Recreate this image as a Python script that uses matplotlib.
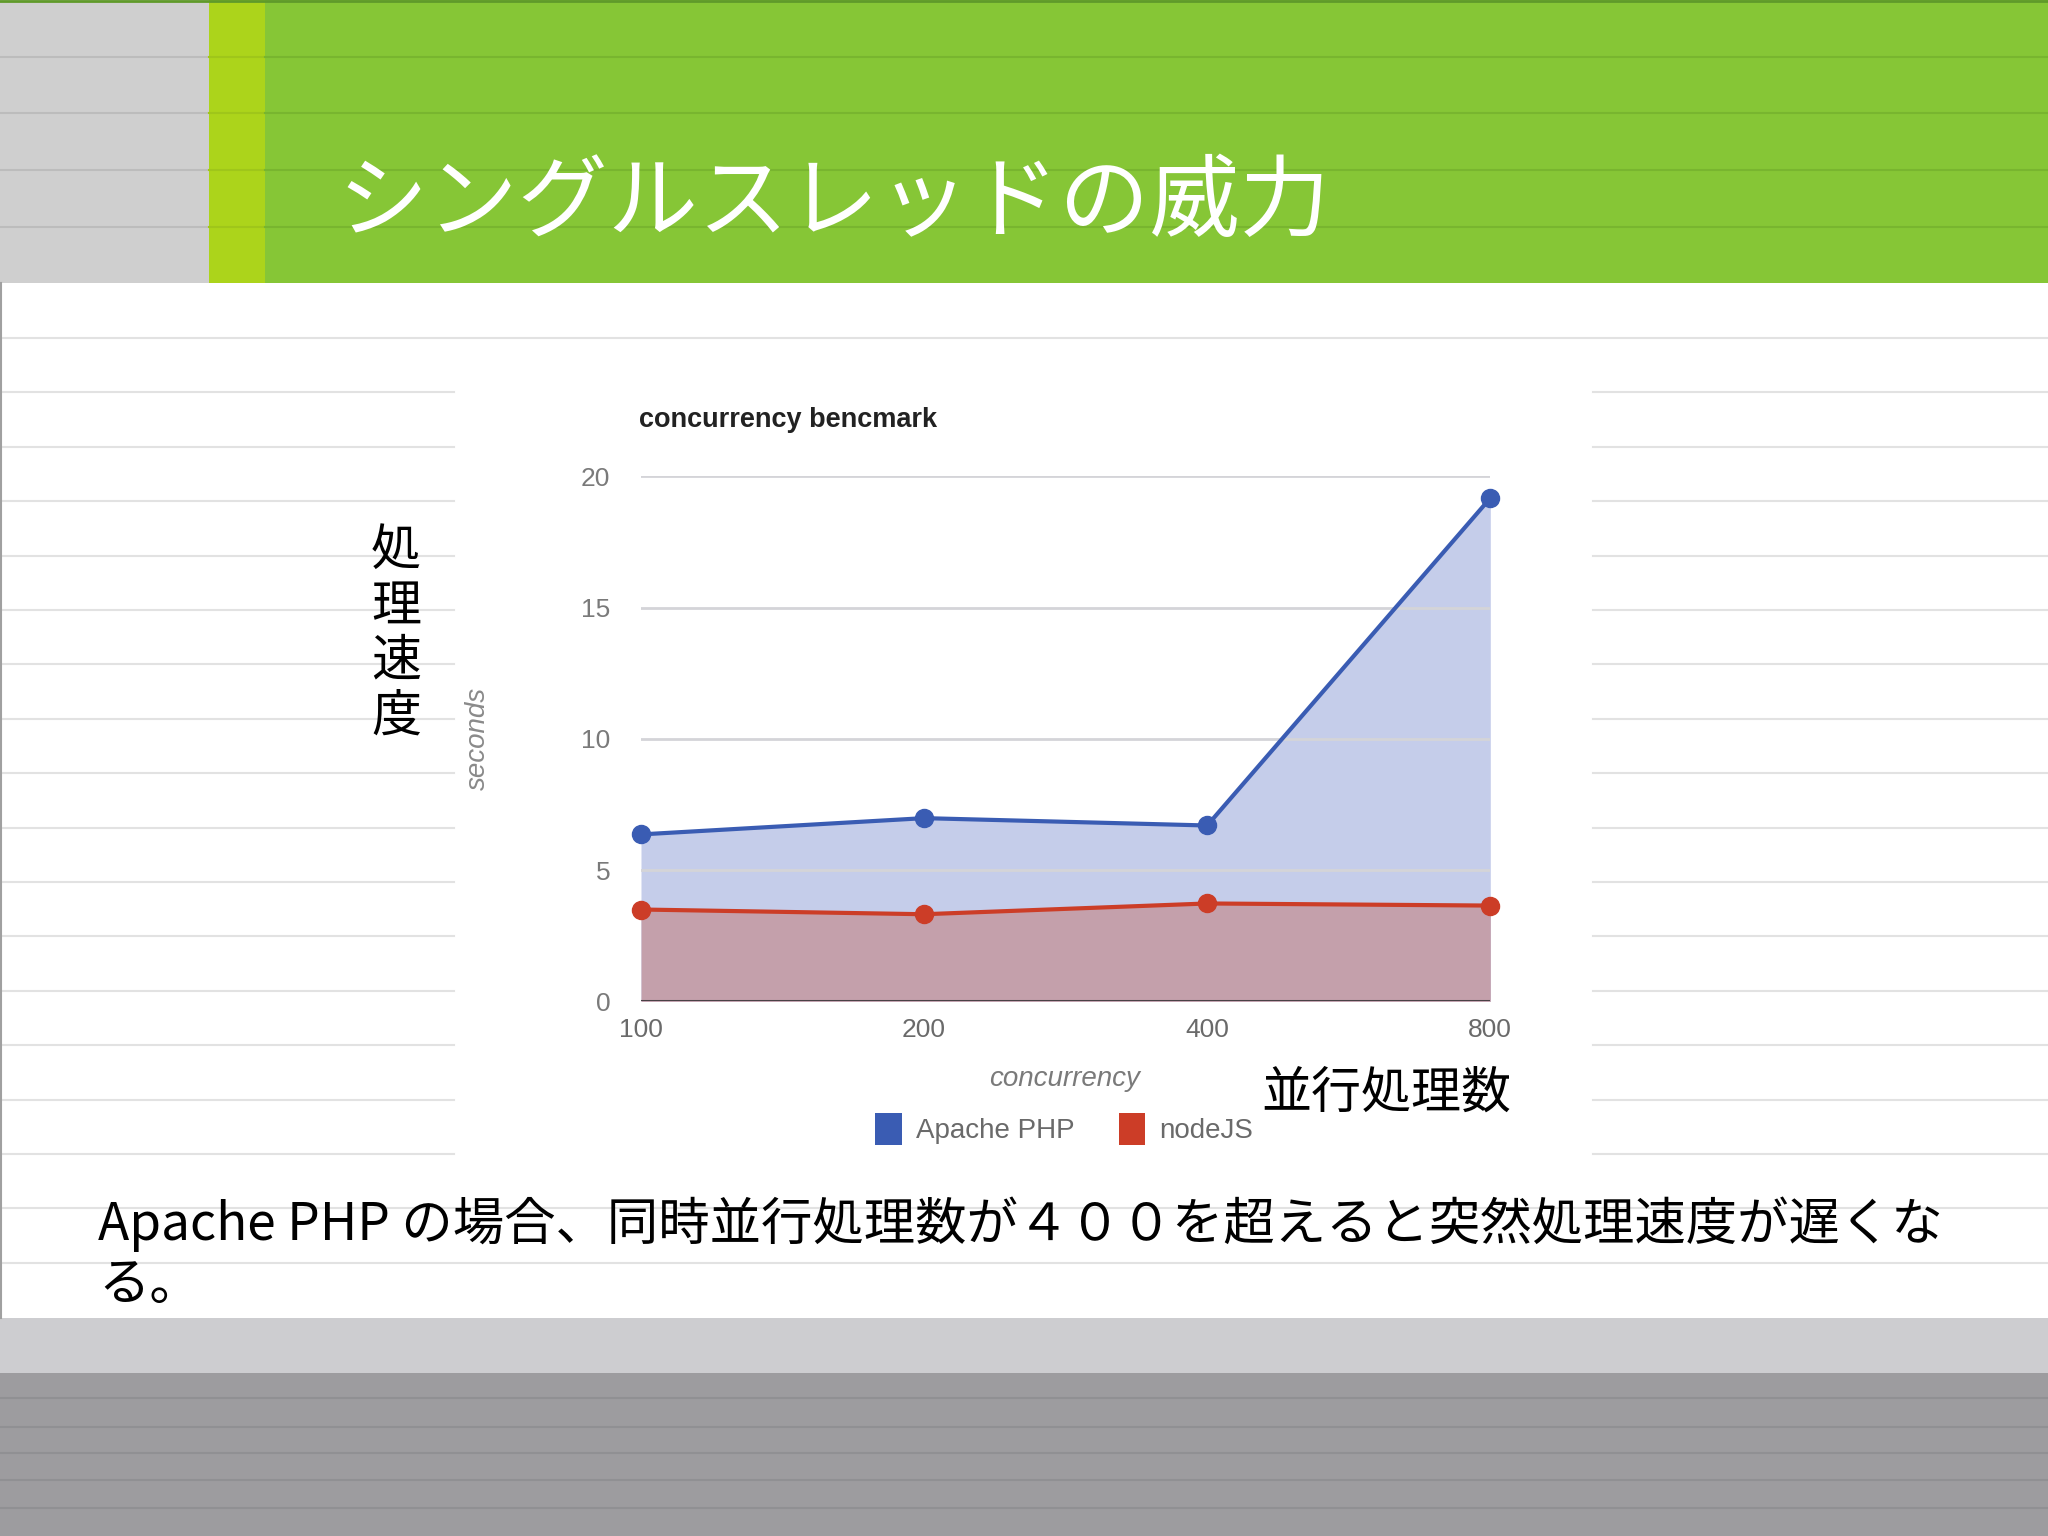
import matplotlib
matplotlib.use("Agg")
import matplotlib.pyplot as plt
from matplotlib.patches import Rectangle, Patch
from matplotlib.lines import Line2D

plt.rcParams['font.family'] = ['Noto Sans CJK JP', 'DejaVu Sans']

# data
concurrency = ['100', '200', '400', '800']
apache_php = [6.36, 6.98, 6.70, 19.17]
node_js = [3.50, 3.32, 3.73, 3.65]
y_ticks = [0, 5, 10, 15, 20]

W, H = 2048, 1536


def fx(px):
    return px / W


def fy(py):
    return 1 - py / H


fig = plt.figure(figsize=(20.48, 15.36), dpi=100)
fig.patch.set_facecolor('white')
tf = fig.transFigure


def rect(x0, y0, x1, y1, color):
    fig.patches.append(Rectangle((fx(x0), fy(y1)), fx(x1) - fx(x0), fy(y0) - fy(y1),
                                 transform=tf, facecolor=color, edgecolor='none', zorder=0))


def hline(y, x0, x1, color, lw=1.5):
    fig.lines.append(Line2D([fx(x0), fx(x1)], [fy(y), fy(y)], transform=tf,
                            color=color, lw=lw, zorder=1))


# header band
rect(0, 0, 209, 283, '#cfcfcf')
rect(209, 0, 265, 283, '#acd41b')
rect(265, 0, W, 283, '#86c636')
hline(1, 0, W, '#5f9a2a', lw=2)
for y in [57, 113, 170, 227]:
    hline(y, 0, 209, '#bcbcbc')
    hline(y, 209, 265, '#9fc61a')
    hline(y, 265, W, '#78b52f')

# ruled lines in the white area (chart picture sits on top of them)
for k in range(18):
    y = 338 + 54.4 * k
    if 385 < y < 1162:
        hline(y, 0, 454, '#e2e2e2')
        hline(y, 1593, W, '#e2e2e2')
    else:
        hline(y, 0, W, '#e2e2e2')
fig.lines.append(Line2D([fx(1), fx(1)], [fy(283), fy(1318)], transform=tf, color='#a0a0a0', lw=1.5))

# footer bands
rect(0, 1318, W, 1373, '#cdcdd0')
rect(0, 1373, W, H, '#9d9c9f')
for y in [1398, 1427, 1453, 1480, 1508]:
    hline(y, 0, W, '#909093')

# title
fig.text(fx(337), fy(230), 'シングルスレッドの威力', color='white', fontsize=65,
         ha='left', va='baseline')

# chart
ax = fig.add_axes([fx(641), fy(1001.4), fx(1490.3) - fx(641), fy(476.3) - fy(1001.4)])
ax.set_facecolor('none')
x = range(len(concurrency))
ax.fill_between(x, 0, apache_php, color='#c5cdea', lw=0, zorder=1)
ax.fill_between(x, 0, node_js, color='#c4a0ab', lw=0, zorder=2)
for v in y_ticks[1:]:
    ax.axhline(v, color='#d4d4d8', lw=2, zorder=1.5)
ax.axhline(0, color='#4a4046', lw=2.2, zorder=3)
ax.plot(x, apache_php, color='#3a5cb3', lw=3, marker='o', ms=13, clip_on=False, zorder=4)
ax.plot(x, node_js, color='#cc3d27', lw=3, marker='o', ms=13, clip_on=False, zorder=4)
ax.set_xlim(0, 3)
ax.set_ylim(0, 20)
ax.set_xticks(list(x))
ax.set_xticklabels(concurrency, family='Liberation Sans', fontsize=19, color='#6a6a6a')
ax.set_yticks(y_ticks)
ax.set_yticklabels([str(v) for v in y_ticks], family='Liberation Sans', fontsize=19, color='#7a7a7a')
ax.tick_params(length=0)
ax.tick_params(axis='y', pad=22)
ax.tick_params(axis='x', pad=12)
for s in ax.spines.values():
    s.set_visible(False)

fig.text(fx(639), fy(420), 'concurrency bencmark', family='Liberation Sans', fontweight='bold',
         fontsize=19.5, color='#222222', ha='left', va='center')
fig.text(fx(478), fy(738), 'seconds', family='Liberation Sans', style='italic', fontsize=20,
         color='#8a8a8a', rotation=90, ha='center', va='center')
fig.text(fx(1065), fy(1079), 'concurrency', family='Liberation Sans', style='italic', fontsize=20,
         color='#7a7a7a', ha='center', va='center')

handles = [Patch(facecolor='#3a5cb3', edgecolor='none', label='Apache PHP'),
           Patch(facecolor='#cc3d27', edgecolor='none', label='nodeJS')]
leg = fig.legend(handles=handles, loc='center', bbox_to_anchor=(fx(1064), fy(1129)), ncol=2,
                 frameon=False, prop={'family': 'Liberation Sans', 'size': 20},
                 handlelength=0.95, handleheight=1.35, handletextpad=0.5, columnspacing=1.6)
for t in leg.get_texts():
    t.set_color('#6a6a6a')

# Japanese annotations
fig.text(fx(396), fy(634), '処\n理\n速\n度', fontsize=36, color='black', ha='center', va='center',
         linespacing=1.08)
fig.text(fx(1261), fy(1094), '並行処理数', fontsize=36, color='black', ha='left', va='center')
fig.text(fx(98), fy(1240), 'Apache PHP の場合、同時並行処理数が４００を超えると突然処理速度が遅くな',
         fontsize=37, color='black', ha='left', va='baseline')
fig.text(fx(98), fy(1300), 'る。', fontsize=37, color='black', ha='left', va='baseline')

fig.savefig('out.png', dpi=100)
